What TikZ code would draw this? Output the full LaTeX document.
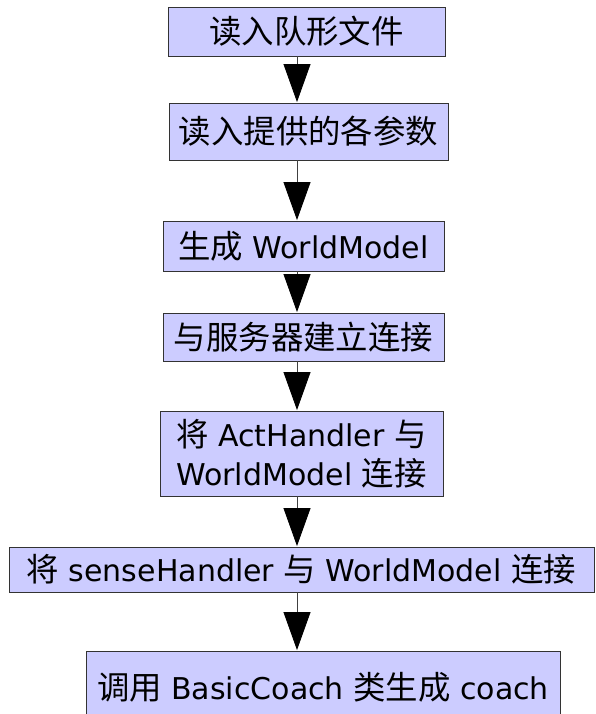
\documentclass[tikz,border=0pt]{standalone}
\usepackage{fontspec}
\setmainfont{DejaVu Sans}
\newfontfamily\cjk[Scale=1.08]{Noto Sans CJK SC}
\usetikzlibrary{arrows.meta}
\newcommand\zh[1]{{\cjk #1}}
\definecolor{boxfill}{HTML}{CCCCFF}
\definecolor{boxline}{HTML}{333333}
\tikzset{
  stepbox/.style={draw=boxline, line width=0.9pt, fill=boxfill, inner sep=0pt,
    align=center, font=\fontsize{30}{39}\selectfont},
  flow/.style={draw=black!75, line width=0.8pt,
    -{Triangle[length=38pt,width=27pt,fill=black,color=black]}, shorten >=0.5pt}
}
\begin{document}
\begin{tikzpicture}[x=1pt,y=-1pt]
  \clip (0,0) rectangle (596,714);
  \useasboundingbox (0,0) rectangle (596,714);
  % process steps, top to bottom
  \node[stepbox, minimum width=277pt, minimum height=49pt] (B1) at (306.5,31.5) {\zh{读入队形文件}};
  \node[stepbox, minimum width=279pt, minimum height=57pt] (B2) at (308.5,131.5) {\zh{读入提供的各参数}};
  \node[stepbox, minimum width=281pt, minimum height=50pt] (B3) at (303.5,246) {\zh{生成} WorldModel};
  \node[stepbox, minimum width=281pt, minimum height=48pt] (B4) at (303.5,337) {\zh{与服务器建立连接}};
  \node[stepbox, minimum width=283pt, minimum height=85pt] (B5) at (301.5,453.5) {\zh{将} ActHandler \zh{与}\\WorldModel \zh{连接}};
  \node[stepbox, minimum width=585pt, minimum height=45pt] (B6) at (301.5,569.5) {\zh{将} senseHandler \zh{与} WorldModel \zh{连接}};
  \node[stepbox, minimum width=474pt, minimum height=72pt] (B7) at (323,687) {\zh{调用} BasicCoach \zh{类生成} coach};
  % common axis of the connectors
  \coordinate (ax) at (297,0);
  \draw[flow] (B1.south -| ax) -- (B2.north -| ax);
  \draw[flow] (B2.south -| ax) -- (B3.north -| ax);
  \draw[flow] (B3.south -| ax) -- (B4.north -| ax);
  \draw[flow] (B4.south -| ax) -- (B5.north -| ax);
  \draw[flow] (B5.south -| ax) -- (B6.north -| ax);
  \draw[flow] (B6.south -| ax) -- (B7.north -| ax);
\end{tikzpicture}
\end{document}
